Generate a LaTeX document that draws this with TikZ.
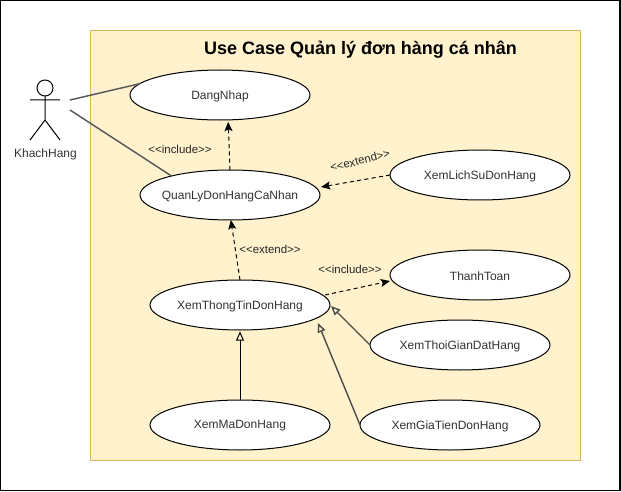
\documentclass[tikz,border=0pt]{standalone}
\usepackage{fontspec}
\setmainfont{Liberation Sans}
\usetikzlibrary{arrows.meta,calc,shapes.geometric}
\definecolor{boxfill}{HTML}{FFF2CC}
\definecolor{boxline}{HTML}{D6B656}
\tikzset{
  px/.style={x=0.75pt,y=-0.75pt},
  usecase/.style={draw=black,fill=white,ellipse,minimum width=135pt,minimum height=37.5pt,inner sep=0pt,outer sep=0pt,line width=0.75pt},
  uctext/.style={text=black!80,font=\fontsize{9}{11}\selectfont,inner sep=0pt,yshift=-0.8pt},
  assoc/.style={draw=black!65,line width=1.1pt},
  dep/.style={draw=black,line width=0.75pt,dash pattern=on 3pt off 2.5pt,-{Stealth[length=7pt,width=6pt,inset=1.5pt]}},
  gen/.style={line width=0.75pt,-{Triangle[open,length=7pt,width=6pt]}},
  gengrey/.style={gen,draw=black!70,line width=1.05pt},
  stereo/.style={text=black!85,font=\fontsize{8.6}{10}\selectfont,inner sep=0pt},
}
\begin{document}
\begin{tikzpicture}[px]
\useasboundingbox (0,0) rectangle (621,492);
\draw[black,line width=1pt] (0.5,0.5) rectangle (620,490.5);
\draw[draw=boxline,fill=boxfill,line width=0.75pt] (90.5,30.5) rectangle (580.5,460.5);
\node[font=\bfseries\fontsize{13.5}{16}\selectfont,inner sep=0pt] (title) at (360.5,50) {Use Case Quản lý đơn hàng cá nhân};

\node[usecase,label={[uctext]center:DangNhap}] (dn) at (220,95) {};
\node[usecase,label={[uctext]center:QuanLyDonHangCaNhan}] (ql) at (230,195) {};
\node[usecase,label={[uctext]center:XemLichSuDonHang}] (ls) at (480,175) {};
\node[usecase,label={[uctext]center:ThanhToan}] (tt) at (480,275) {};
\node[usecase,label={[uctext]center:XemThongTinDonHang}] (tin) at (240,305) {};
\node[usecase,label={[uctext]center:XemThoiGianDatHang}] (tg) at (460,345) {};
\node[usecase,label={[uctext]center:XemMaDonHang}] (ma) at (240,425) {};
\node[usecase,label={[uctext]center:XemGiaTienDonHang}] (gia) at (450,425) {};

% actor
\draw[black,line width=0.75pt] (45,88) circle (8);
\draw[black,line width=0.75pt] (45,96) -- (45,120) (30,100) -- (60,100) (30,140) -- (45,120) -- (60,140);
\node[uctext] (actor) at (45.5,153.5) {KhachHang};
\coordinate (a1) at (70,100);
\coordinate (a2) at (70,110);

\draw[assoc] (a1) -- (dn.172);
\draw[assoc] (a2) -- (ql.162);

\coordinate (qe) at ($(ql.east)+(1,-8)$);
\coordinate (te) at ($(tin.east)+(-5,-10)$);
\coordinate (tw) at ($(tt.west)+(0,6)$);
\coordinate (ge1) at ($(tin.east)+(1,1)$);
\coordinate (ge2) at ($(tin.east)+(-12,18)$);

\draw[dep,shorten >=1.5pt] (ql.north) -- (dn.-72);
\draw[dep] (tin.north) -- (ql.-88);
\draw[dep] (ls.west) -- (qe);
\draw[dep] (te) -- (tw);
\draw[gen] (ma.north) -- ([yshift=-1]tin.south);
\draw[gengrey] (tg.west) -- (ge1);
\draw[gengrey] (gia.west) -- (ge2);

\node[stereo] (l1) at (180,149.5) {<{}<include>{}>};
\node[stereo,rotate=14] (l2) at (360,160.5) {<{}<extend>{}>};
\node[stereo] (l3) at (270,249.5) {<{}<extend>{}>};
\node[stereo] (l4) at (350,269.5) {<{}<include>{}>};
\end{tikzpicture}
\end{document}
